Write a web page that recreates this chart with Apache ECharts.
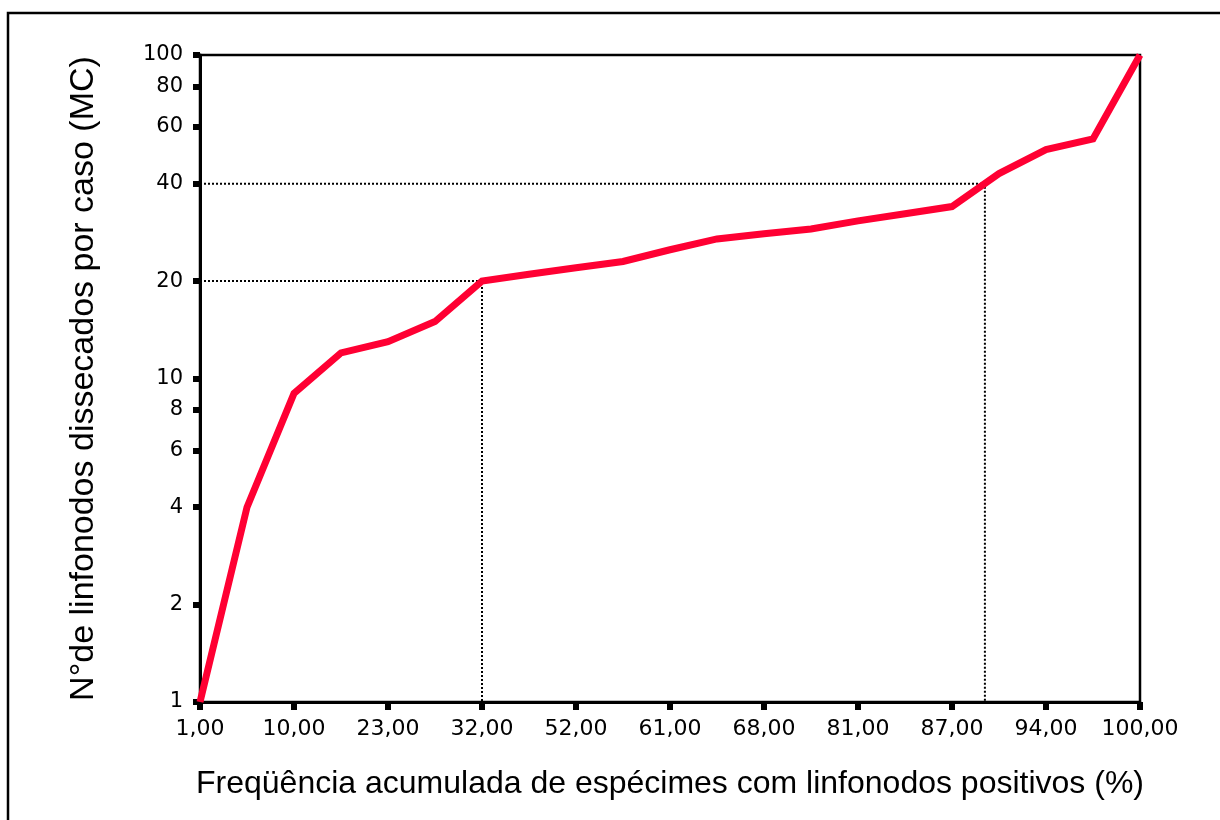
<!DOCTYPE html>
<html><head><meta charset="utf-8">
<script src="https://cdn.jsdelivr.net/npm/echarts@6/dist/echarts.min.js"></script>
<style>html,body{margin:0;padding:0;background:#fff}#c{width:1220px;height:820px}</style>
</head><body><div id="c"></div>
<script>
// Tick labels shown on the x axis (every other position)
const xTickLabels = ['1,00','10,00','23,00','32,00','52,00','61,00','68,00','81,00','87,00','94,00','100,00'];
// Ordinal positions of the plotted points along x
const xPositions = [0,1,2,3,4,5,6,7,8,9,10,11,12,13,14,15,16,17,18,19,20];
// Nº of dissected lymph nodes per case
const linfonodos = [1,4,9,12,13,15,20,21,22,23,25,27,28,29,30.7,32.3,34,43,51,55,100];
// Y tick values (log axis)
const yTickValues = [1,2,4,6,8,10,20,40,60,80,100];
// Reference (dotted) guide points: [x position, y value]
const refX = [6, 16.7];
const refY = [20, 40];

const chart = echarts.init(document.getElementById('c'), null, {renderer:'canvas'});
const lineData = xPositions.map((x,i)=>[x, linfonodos[i]]);
const refSeries = refX.map((x,i)=>({
  type:'line', data:[[0,refY[i]],[x,refY[i]],[x,1]], symbol:'none', silent:true, clip:false,
  lineStyle:{color:'#000', width:2, type:[2,2]}, z:1
}));

chart.setOption({
  animation:false,
  backgroundColor:'#fff',
  graphic:[{type:'rect', silent:true, shape:{x:8,y:13,width:1240,height:840},
    style:{fill:'none', stroke:'#000', lineWidth:2.5}}],
  grid:{left:200,right:80,top:55,bottom:118,show:true,borderColor:'#000',borderWidth:2.5,containLabel:false},
  xAxis:{
    type:'value', min:0, max:20, interval:2,
    axisLine:{show:true,onZero:false,lineStyle:{color:'#000',width:3}},
    axisTick:{show:true,length:8,lineStyle:{color:'#000',width:6}},
    axisLabel:{formatter:v=>xTickLabels[Math.round(v/2)], color:'#000', fontFamily:'DejaVu Sans', fontSize:22, margin:16},
    splitLine:{show:false},
    name:'Freqüência acumulada de espécimes com linfonodos positivos (%)',
    nameLocation:'middle', nameGap:66,
    nameTextStyle:{fontFamily:'Liberation Sans', fontSize:32, color:'#000'}
  },
  yAxis:{
    type:'log', logBase:10, min:1, max:100,
    axisLine:{show:true,onZero:false,lineStyle:{color:'#000',width:3}},
    axisTick:{show:true,length:7,customValues:yTickValues,lineStyle:{color:'#000',width:6}},
    axisLabel:{customValues:yTickValues, color:'#000', fontFamily:'DejaVu Sans', fontSize:21, margin:17},
    splitLine:{show:false},
    name:'N°de linfonodos dissecados por caso (MC)',
    nameLocation:'middle', nameGap:99,
    nameTextStyle:{fontFamily:'Liberation Sans', fontSize:34, color:'#000'}
  },
  series:[
    ...refSeries,
    {type:'line', data:lineData, symbol:'none', clip:false, z:5,
     lineStyle:{color:'#FF0033', width:7, join:'miter'}}
  ]
});
</script></body></html>
